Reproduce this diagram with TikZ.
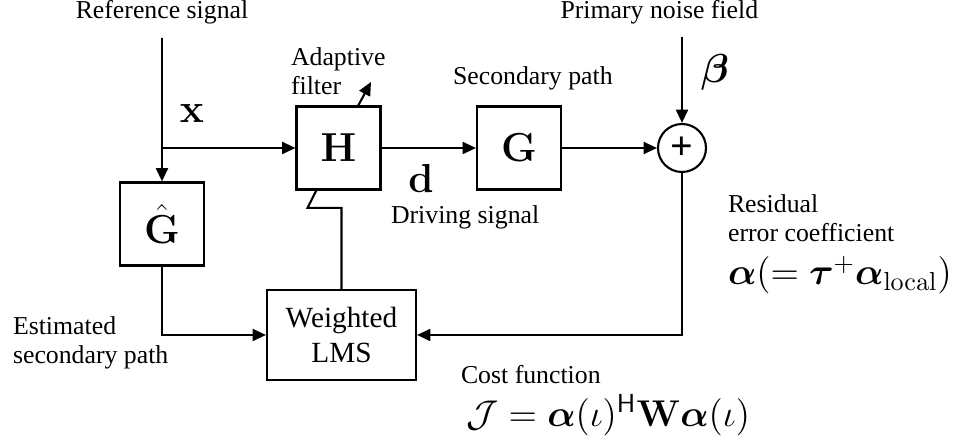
\documentclass[tikz,border=0pt]{standalone}
\usepackage{fix-cm}
\usepackage{amsmath}
\usepackage[no-math]{fontspec}
\setmainfont{Liberation Serif}
\usetikzlibrary{arrows.meta,positioning,calc}

\begin{document}
\begin{tikzpicture}[x=0.015cm, y=-0.015cm, line width=0.9pt,
        every node/.style={font=\fontsize{11}{12.5}\selectfont},
        blk/.style={draw, minimum width=1.26cm, minimum height=1.245cm, inner sep=0pt, font=\LARGE},
        sig/.style={-{Triangle[length=2mm,width=1.8mm]}},
        lbl/.style={align=left, anchor=west, inner sep=0pt},
        mth/.style={font=\LARGE},
        eqn/.style={align=left, anchor=west, inner sep=0pt, font=\fontsize{15.9}{18}\selectfont}]
        \useasboundingbox (0,0) rectangle (957,443);
        % blocks
        \node[blk] (H) at (338.5,148) {$\mathbf{H}$};
        \node[blk] (G) at (519,148) {$\mathbf{G}$};
        \node[blk] (Gh) at (162,224) {$\hat{\mathbf{G}}$};
        \node[draw, minimum width=2.235cm, minimum height=1.35cm, align=center, font=\fontsize{12.5}{15}\selectfont] (LMS) at (341.5,335) {Weighted\\LMS};
        \node[draw, circle, minimum size=0.72cm, inner sep=0pt, font=\bfseries\fontsize{17}{17}\selectfont] (sum) at (682,148) {+};
        % free ends
        \coordinate (xin) at (162,38);
        \coordinate (xj) at (162,148);
        \coordinate (pin) at (682,37);
        \coordinate (aft) at (358,106);
        \coordinate (afh) at (371,82);
        \coordinate (hb) at (317,189);
        % connectors
        \draw[sig] (xin) -- (Gh.north);
        \draw[sig] (xj) -- (H.west);
        \foreach \a/\b in {H/G,G/sum}
            \draw[sig] (\a) -- (\b);
        \draw[sig] (pin) -- (sum);
        \draw[sig] (sum) |- (LMS);
        \draw[sig] (Gh) |- (LMS);
        \draw (LMS.north) -- ++(0,-81) -- ++(-34,0) -- (hb);
        \draw[sig] (aft) -- (afh);
        % labels
        \node (refsig) at (162,12) {Reference signal};
        \node[anchor=east] (prim) at (767,12) {Primary noise field};
        \node[mth] (xlab) at (192,114) {$\mathbf{x}$};
        \node[lbl] (aflab) at (290,71) {Adaptive\\filter};
        \node[lbl] (splab) at (452,78) {Secondary path};
        \node[mth] (dlab) at (421,178) {$\mathbf{d}$};
        \node[lbl] (dslab) at (390,217) {Driving signal};
        \node[mth] (blab) at (715,72) {$\boldsymbol{\beta}$};
        \node[lbl] (reslab) at (727,218) {Residual\\error coefficient};
        \node[eqn] (alab) at (727,275) {$\boldsymbol{\alpha}(=\boldsymbol{\tau}^{+}\boldsymbol{\alpha}_{\mathrm{local}})$};
        \node[lbl] (estlab) at (12,343) {Estimated\\secondary path};
        \node[lbl] (costlab) at (460,375) {Cost function};
        \node[eqn] (jlab) at (465,415) {$\mathcal{J}=\boldsymbol{\alpha}(\iota)^{\mathsf{H}}\mathbf{W}\boldsymbol{\alpha}(\iota)$};
\end{tikzpicture}
\end{document}
